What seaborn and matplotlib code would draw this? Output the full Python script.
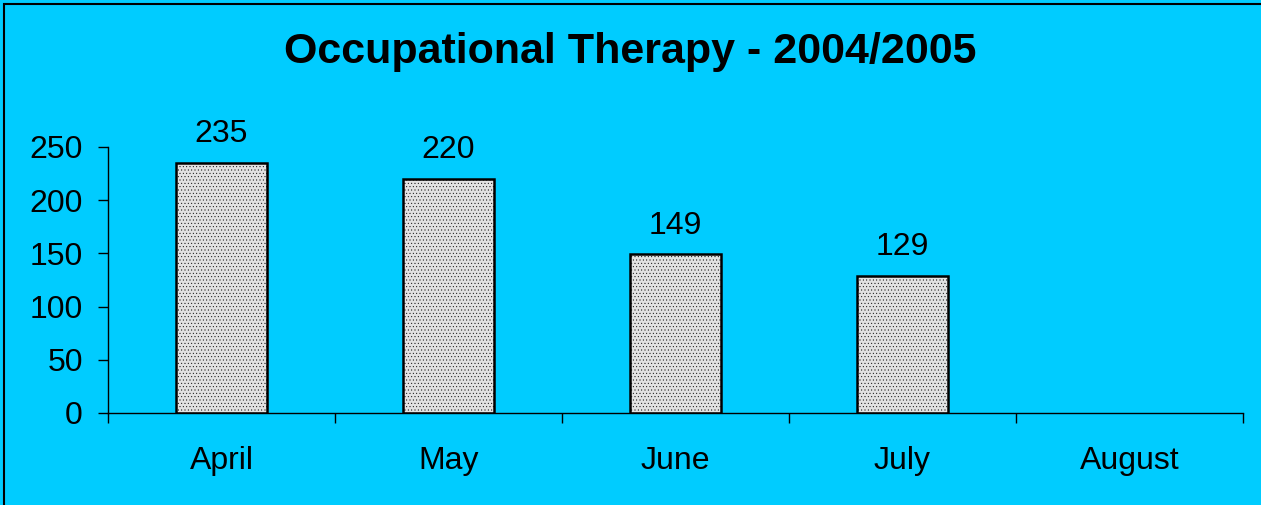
import numpy as np
import pandas as pd
import matplotlib
matplotlib.use("Agg")
import matplotlib.pyplot as plt
import matplotlib.patches as mpatches
from matplotlib.ticker import FixedLocator
import seaborn as sns

months = ["April", "May", "June", "July", "August"]
values = [235, 220, 149, 129, np.nan]
title = "Occupational Therapy - 2004/2005"
yticks = [0, 50, 100, 150, 200, 250]

sns.set_theme(style="white")
plt.rcParams['font.family'] = ['Liberation Sans', 'DejaVu Sans']
plt.rcParams['hatch.color'] = '#BDBDBD'
plt.rcParams['hatch.linewidth'] = 0.3

bg = "#00CCFF"
W, H = 1261, 505
fig = plt.figure(figsize=(W / 100, H / 100), dpi=100, facecolor=bg)
ax = fig.add_axes([108 / W, (H - 413) / H, (1243 - 108) / W, (413 - 147) / H])
ax.set_facecolor(bg)

df = pd.DataFrame({"month": months, "value": values})
sns.barplot(data=df, x="month", y="value", order=months, ax=ax,
            color="#E2E2E2", width=0.4, edgecolor="black", linewidth=1.8,
            saturation=1)

for p in ax.patches:
    p.set_hatch(".....")
    p.set_edgecolor("black")

for i, v in enumerate(values):
    if not np.isnan(v):
        ax.annotate(f"{int(v)}", (i, v), xytext=(0, 10), textcoords="offset points",
                    ha="center", va="bottom", fontsize=23, color="black")

ax.set_xlim(-0.5, len(months) - 0.5)
ax.set_ylim(0, 250)
ax.set_yticks(yticks)
ax.set_yticklabels([str(t) for t in yticks], fontsize=23, color="black")
ax.set_xticks(range(len(months)))
ax.set_xticklabels(months, fontsize=23, color="black")
ax.xaxis.set_minor_locator(FixedLocator(np.arange(-0.5, len(months), 1.0)))
ax.tick_params(axis="x", which="major", length=0, pad=24)
ax.tick_params(axis="x", which="minor", length=7, width=1, color="black", direction="out", bottom=True)
ax.tick_params(axis="y", which="major", length=7, width=1, color="black", direction="out", left=True, pad=11)
ax.set_xlabel("")
ax.set_ylabel("")

for s in ["top", "right"]:
    ax.spines[s].set_visible(False)
for s in ["left", "bottom"]:
    ax.spines[s].set_visible(True)
    ax.spines[s].set_color("black")
    ax.spines[s].set_linewidth(1)

fig.text(0.5, 1 - 52 / H, title, ha="center", va="center", fontsize=31,
         fontweight="bold", color="black")

rect = mpatches.Rectangle((4 / W, -0.1), 1.2, 1 - 4 / H + 0.1, transform=fig.transFigure,
                          fill=False, edgecolor="black", linewidth=1.5)
fig.patches.append(rect)

fig.savefig("out.png", dpi=100, facecolor=bg)
